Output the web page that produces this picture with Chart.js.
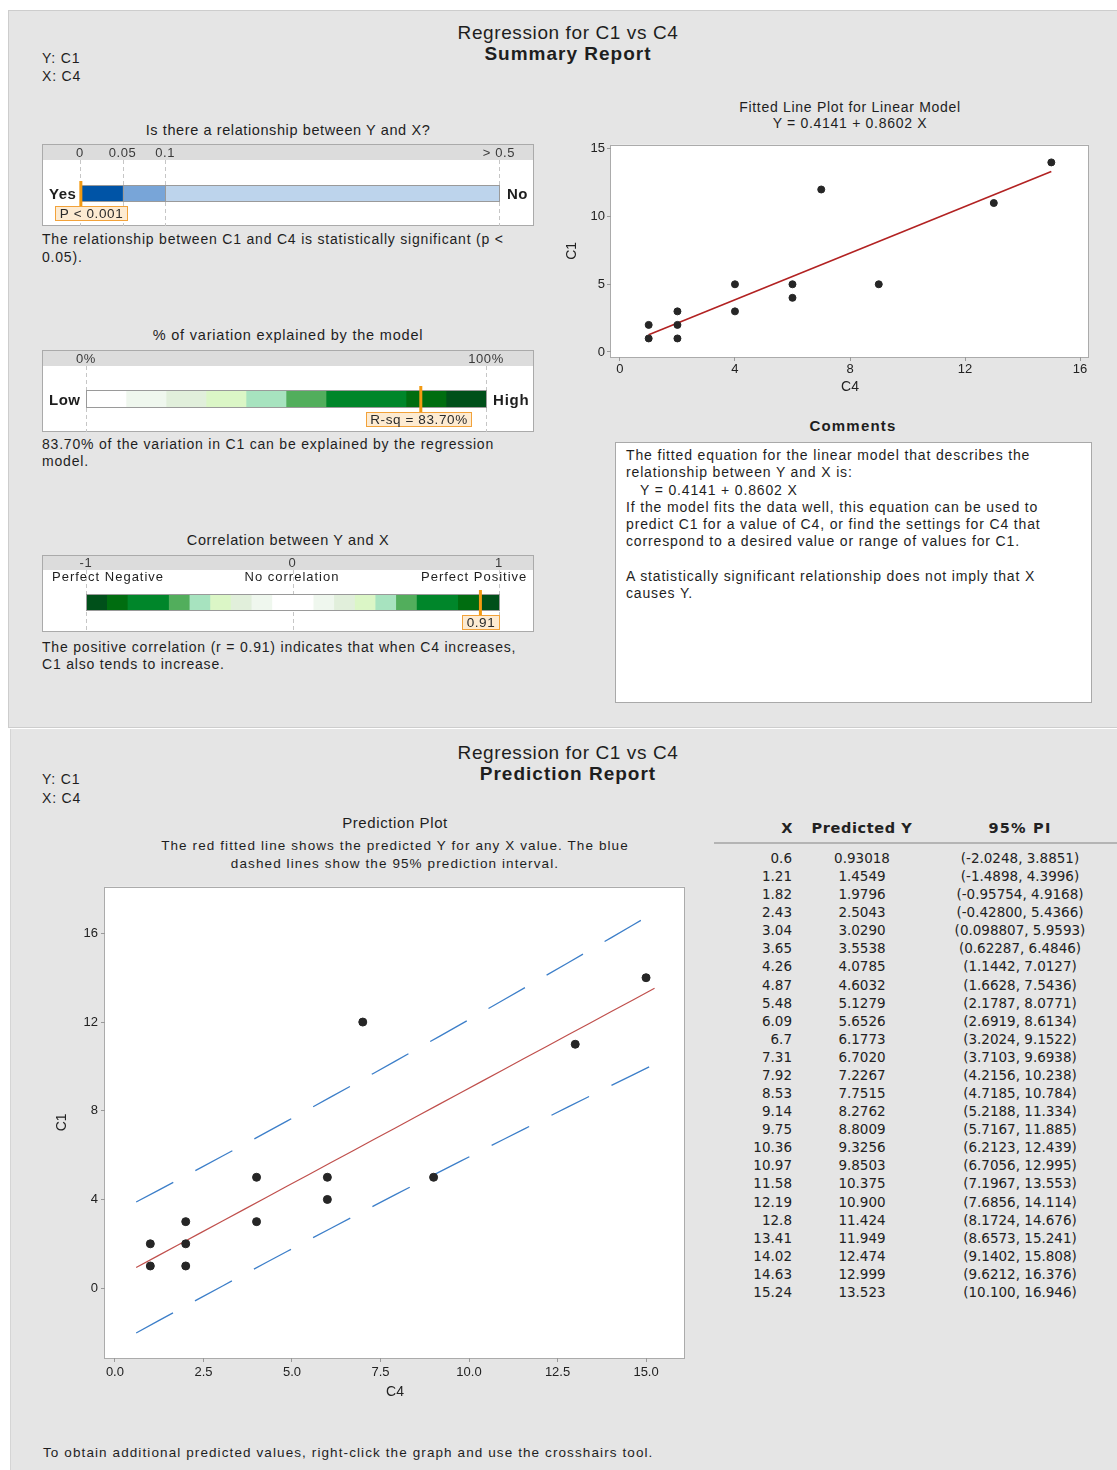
<!DOCTYPE html>
<html>
<head>
<meta charset="utf-8">
<script src="https://cdn.jsdelivr.net/npm/chart.js@4.4.1/dist/chart.umd.min.js"></script>
<style>
body { margin: 0; width: 1117px; height: 1470px; background: #fff; position: relative; overflow: hidden;
  font-family: 'Liberation Sans', Arial, sans-serif; color: #1e1e1e; }
.panel { position: absolute; background: #e5e5e5; }
.t { position: absolute; white-space: nowrap; font-size: 14px; line-height: 17px; letter-spacing: 0.8px; }
.h { font-size: 19px; line-height: 22px; letter-spacing: 0.6px; }
.h.b { letter-spacing: 1px; }
.c { text-align: center; }
.b { font-weight: bold; }
.sp { letter-spacing: 1.1px; font-size: 13.5px; }
canvas { position: absolute; }
#comments { position: absolute; left: 615px; top: 442px; width: 477px; height: 261px; background: #fff;
  border: 1px solid #a9a9a9; padding: 4px 0 0 10px; box-sizing: border-box; font-size: 14px; line-height: 17.3px;
  white-space: pre; letter-spacing: 0.85px; }
.cell { position: absolute; font-family: 'DejaVu Sans', sans-serif; font-size: 13.5px; line-height: 18px; white-space: nowrap; color: #222; }
.hd { font-weight: bold; font-size: 14.5px; letter-spacing: 0.6px; }
</style>
</head>
<body>
<div class="panel" style="left:8px;top:10px;width:1109px;height:716px;border-top:1px solid #cdcdcd;border-left:1px solid #cdcdcd;border-bottom:1px solid #cdcdcd"></div>
<div class="panel" style="left:10px;top:729px;width:1107px;height:741px;border-left:1px solid #d5d5d5"></div>

<!-- summary report -->
<div class="t c h" style="left:368px;top:22px;width:400px">Regression for C1 vs C4</div>
<div class="t c h b" style="left:368px;top:43px;width:400px">Summary Report</div>
<div class="t" style="left:42px;top:50px">Y: C1</div>
<div class="t" style="left:42px;top:68px">X: C4</div>

<div class="t c" style="left:88px;top:122px;width:400px;font-size:14.5px;letter-spacing:0.6px">Is there a relationship between Y and X?</div>
<canvas id="gaugeP" width="492" height="82" style="left:42px;top:144px"></canvas>
<div class="t b" style="left:49px;top:185px;font-size:15px;letter-spacing:0.5px">Yes</div>
<div class="t b" style="left:507px;top:185px;font-size:15px;letter-spacing:0.5px">No</div>
<div class="t" style="left:42px;top:230px;line-height:18px">The relationship between C1 and C4 is statistically significant (p &lt;<br>0.05).</div>

<div class="t c" style="left:88px;top:327px;width:400px;font-size:14.5px">% of variation explained by the model</div>
<canvas id="gaugeR" width="492" height="82" style="left:42px;top:350px"></canvas>
<div class="t b" style="left:49px;top:391px;font-size:15px;letter-spacing:0.5px">Low</div>
<div class="t b" style="left:493px;top:391px;font-size:15px;letter-spacing:0.8px">High</div>
<div class="t" style="left:42px;top:436px">83.70% of the variation in C1 can be explained by the regression<br>model.</div>

<div class="t c" style="left:88px;top:532px;width:400px;font-size:14.5px;letter-spacing:0.65px">Correlation between Y and X</div>
<canvas id="gaugeC" width="492" height="77" style="left:42px;top:555px"></canvas>
<div class="t sp" style="left:52px;top:568px;font-size:13px;letter-spacing:1px">Perfect Negative</div>
<div class="t sp c" style="left:192px;top:568px;width:200px;font-size:13px;letter-spacing:1px">No correlation</div>
<div class="t sp" style="left:421px;top:568px;font-size:13px;letter-spacing:1px">Perfect Positive</div>
<div class="t" style="left:42px;top:639px">The positive correlation (r = 0.91) indicates that when C4 increases,<br>C1 also tends to increase.</div>

<div class="t c" style="left:650px;top:100px;width:400px;line-height:15.5px;letter-spacing:0.7px">Fitted Line Plot for Linear Model<br>Y = 0.4141 + 0.8602 X</div>
<canvas id="fitChart" width="545" height="265" style="left:560px;top:135px"></canvas>

<div class="t c b" style="left:753px;top:417px;width:200px;font-size:15px;letter-spacing:1.2px">Comments</div>
<div id="comments">The fitted equation for the linear model that describes the
relationship between Y and X is:
   Y = 0.4141 + 0.8602 X
If the model fits the data well, this equation can be used to
predict C1 for a value of C4, or find the settings for C4 that
correspond to a desired value or range of values for C1.

A statistically significant relationship does not imply that X
causes Y.</div>

<!-- prediction report -->
<div class="t c h" style="left:368px;top:742px;width:400px">Regression for C1 vs C4</div>
<div class="t c h b" style="left:368px;top:763px;width:400px">Prediction Report</div>
<div class="t" style="left:42px;top:771px">Y: C1</div>
<div class="t" style="left:42px;top:790px">X: C4</div>

<div class="t c" style="left:195px;top:814px;width:400px;font-size:15px;letter-spacing:0.6px">Prediction Plot</div>
<div class="t c sp" style="left:95px;top:837px;width:600px;line-height:18px">The red fitted line shows the predicted Y for any X value. The blue<br>dashed lines show the 95% prediction interval.</div>
<canvas id="predChart" width="660" height="534" style="left:40px;top:876px"></canvas>
<div class="t sp" style="left:43px;top:1444px">To obtain additional predicted values, right-click the graph and use the crosshairs tool.</div>

<div class="cell hd" style="left:720px;top:819px;width:73px;text-align:right">X</div>
<div class="cell hd" style="left:802px;top:819px;width:120px;text-align:center">Predicted Y</div>
<div class="cell hd" style="left:930px;top:819px;width:180px;text-align:center;letter-spacing:1.2px">95% PI</div>
<div style="position:absolute;left:714px;top:842px;width:403px;height:2px;background:#b4b4b4"></div>
<div id="table"></div>

<script>
Chart.defaults.font.family = "'Liberation Sans', Arial, sans-serif";
Chart.defaults.color = '#222';
Chart.defaults.animation = false;

// ---- data ----
var c4 = [1, 1, 2, 2, 2, 4, 4, 6, 6, 7, 9, 13, 15];
var c1 = [1, 2, 1, 2, 3, 3, 5, 4, 5, 12, 5, 11, 14];
var fitX = [1, 15];
var fitY = [1.27, 13.32];

var predX = [0.6, 1.21, 1.82, 2.43, 3.04, 3.65, 4.26, 4.87, 5.48, 6.09, 6.7, 7.31, 7.92,
  8.53, 9.14, 9.75, 10.36, 10.97, 11.58, 12.19, 12.8, 13.41, 14.02, 14.63, 15.24];
var predY = [0.93018, 1.4549, 1.9796, 2.5043, 3.0290, 3.5538, 4.0785, 4.6032, 5.1279, 5.6526,
  6.1773, 6.7020, 7.2267, 7.7515, 8.2762, 8.8009, 9.3256, 9.8503, 10.375, 10.900, 11.424,
  11.949, 12.474, 12.999, 13.523];
var piLow = [-2.0248, -1.4898, -0.95754, -0.42800, 0.098807, 0.62287, 1.1442, 1.6628, 2.1787,
  2.6919, 3.2024, 3.7103, 4.2156, 4.7185, 5.2188, 5.7167, 6.2123, 6.7056, 7.1967, 7.6856,
  8.1724, 8.6573, 9.1402, 9.6212, 10.100];
var piHigh = [3.8851, 4.3996, 4.9168, 5.4366, 5.9593, 6.4846, 7.0127, 7.5436, 8.0771, 8.6134,
  9.1522, 9.6938, 10.238, 10.784, 11.334, 11.885, 12.439, 12.995, 13.553, 14.114, 14.676,
  15.241, 15.808, 16.376, 16.946];

var fitXTicks = [0, 4, 8, 12, 16];
var fitYTicks = [0, 5, 10, 15];
var predXTicks = [0, 2.5, 5, 7.5, 10, 12.5, 15];
var predYTicks = [0, 4, 8, 12, 16];

var pStops = [0, 0.05, 0.1, 0.5];
var pTickLabels = ['0', '0.05', '0.1', '> 0.5'];
var pValue = 0.001;
var pLabel = 'P < 0.001';

var rsqStops = [0, 10, 20, 30, 40, 50, 60, 80, 90, 100];
var rsqTicks = [0, 100];
var rsqTickLabels = ['0%', '100%'];
var rsqValue = 83.70;
var rsqLabel = 'R-sq = 83.70%';

var corrStops = [-1, -0.9, -0.8, -0.6, -0.5, -0.4, -0.3, -0.2, -0.1, 0.1, 0.2, 0.3, 0.4, 0.5, 0.6, 0.8, 0.9, 1];
var corrTicks = [-1, 0, 1];
var corrTickLabels = ['-1', '0', '1'];
var corrValue = 0.91;
var corrLabel = '0.91';

// ---- colours ----
var blues = ['#0054a6', '#78a5d8', '#bdd4ec'];
var greens = ['#ffffff', '#eff7ee', '#e1efdb', '#dbf6c6', '#a7e3bf', '#52ae5c', '#00862a', '#006d10', '#00501a'];
var corrColors = greens.slice(1).reverse().concat(greens);

// p gauge is not linear: 0-0.05-0.1 get equal room, 0.1-0.5 the rest
var pPos = [0, 1, 2, 9.85];
function pMap(v) {
  for (var i = 0; i < pStops.length - 1; i++) {
    if (v <= pStops[i + 1]) {
      return pPos[i] + (v - pStops[i]) / (pStops[i + 1] - pStops[i]) * (pPos[i + 1] - pPos[i]);
    }
  }
  return pPos[pPos.length - 1];
}
function same(v) { return v; }

var gaugeDecor = {
  id: 'gaugeDecor',
  beforeDraw: function(chart, args, o) {
    var ctx = chart.ctx, w = chart.width, h = chart.height, xs = chart.scales.x;
    ctx.save();
    ctx.fillStyle = '#fff';
    ctx.fillRect(0, 0, w, h);
    ctx.fillStyle = '#dcdcdc';
    ctx.fillRect(0, 0, w, o.headH);
    ctx.strokeStyle = '#aaaaaa';
    ctx.lineWidth = 1;
    ctx.strokeRect(0.5, 0.5, w - 1, h - 1);
    ctx.setLineDash([4, 3]);
    ctx.strokeStyle = '#c6c6c6';
    o.ticks.forEach(function(t) {
      var px = Math.round(xs.getPixelForValue(o.map(t))) + 0.5;
      ctx.beginPath();
      ctx.moveTo(px, o.headH);
      ctx.lineTo(px, h);
      ctx.stroke();
    });
    ctx.setLineDash([]);
    ctx.fillStyle = '#3a3a3a';
    ctx.font = "13px 'Liberation Sans', Arial, sans-serif";
    ctx.letterSpacing = '0.6px';
    ctx.textAlign = 'center';
    ctx.textBaseline = 'middle';
    o.ticks.forEach(function(t, i) {
      ctx.fillText(o.labels[i], xs.getPixelForValue(o.map(t)), o.headH / 2 + 1);
    });
    ctx.restore();
  },
  afterDatasetsDraw: function(chart, args, o) {
    var ctx = chart.ctx, xs = chart.scales.x;
    var bar = chart.getDatasetMeta(0).data[0];
    var top = bar.y - bar.height / 2, bottom = bar.y + bar.height / 2;
    var left = xs.getPixelForValue(xs.min), right = xs.getPixelForValue(xs.max);
    ctx.save();
    ctx.strokeStyle = '#9a9a9a';
    ctx.lineWidth = 1;
    if (o.separators) {
      o.ticks.forEach(function(t) {
        var px = Math.round(xs.getPixelForValue(o.map(t))) + 0.5;
        ctx.beginPath();
        ctx.moveTo(px, top);
        ctx.lineTo(px, bottom);
        ctx.stroke();
      });
    }
    ctx.strokeRect(Math.round(left) + 0.5, Math.round(top) - 0.5, Math.round(right - left), Math.round(bottom - top) + 1);
    // marker and its label
    var mx = xs.getPixelForValue(o.map(o.value));
    ctx.font = "13.5px 'Liberation Sans', Arial, sans-serif";
    ctx.letterSpacing = '0.6px';
    var tw = Math.round(ctx.measureText(o.text).width + 8);
    var lx = Math.round(mx + o.shift - tw / 2) + 0.5, ly = Math.round(bottom) + 5.5;
    ctx.fillStyle = '#fdebd2';
    ctx.fillRect(lx, ly, tw, 14);
    ctx.strokeStyle = '#f2a23a';
    ctx.strokeRect(lx, ly, tw, 14);
    ctx.fillStyle = '#f39a12';
    ctx.fillRect(mx - 1.5, top - 5, 3, bottom - top + 10);
    ctx.fillStyle = '#2a2a2a';
    ctx.textAlign = 'center';
    ctx.textBaseline = 'middle';
    ctx.fillText(o.text, lx + tw / 2, ly + 7.5);
    ctx.restore();
  }
};

function makeGauge(id, g) {
  var datasets = [];
  for (var i = 0; i < g.stops.length - 1; i++) {
    datasets.push({
      data: [[g.map(g.stops[i]), g.map(g.stops[i + 1])]],
      backgroundColor: g.colors[i],
      borderWidth: 0,
      grouped: false,
      barThickness: g.thick
    });
  }
  return new Chart(document.getElementById(id), {
    type: 'bar',
    data: { labels: [''], datasets: datasets },
    options: {
      indexAxis: 'y',
      responsive: false,
      events: [],
      layout: { padding: g.pad },
      scales: {
        x: { display: false, min: g.map(g.stops[0]), max: g.map(g.stops[g.stops.length - 1]) },
        y: { display: false }
      },
      plugins: {
        legend: { display: false },
        tooltip: { enabled: false },
        gaugeDecor: {
          headH: g.headH, ticks: g.ticks, labels: g.labels, map: g.map,
          value: g.value, text: g.text, shift: g.shift, separators: g.separators
        }
      }
    },
    plugins: [gaugeDecor]
  });
}

makeGauge('gaugeP', {
  stops: pStops, colors: blues, map: pMap, thick: 15, headH: 16,
  pad: { left: 38, right: 35, top: 40, bottom: 23 },
  ticks: pStops, labels: pTickLabels, value: pValue, text: pLabel, shift: 10, separators: true
});
makeGauge('gaugeR', {
  stops: rsqStops, colors: greens, map: same, thick: 16, headH: 16,
  pad: { left: 44, right: 48, top: 40, bottom: 24 },
  ticks: rsqTicks, labels: rsqTickLabels, value: rsqValue, text: rsqLabel, shift: -2
});
makeGauge('gaugeC', {
  stops: corrStops, colors: corrColors, map: same, thick: 15, headH: 15,
  pad: { left: 44, right: 35, top: 38, bottom: 20 },
  ticks: corrTicks, labels: corrTickLabels, value: corrValue, text: corrLabel, shift: 0
});

// ---- scatter plots ----
var plotBox = {
  id: 'plotBox',
  beforeDraw: function(chart) {
    var a = chart.chartArea, ctx = chart.ctx;
    ctx.save();
    ctx.fillStyle = '#fff';
    ctx.fillRect(a.left, a.top, a.right - a.left, a.bottom - a.top);
    ctx.strokeStyle = '#ababab';
    ctx.lineWidth = 1;
    ctx.strokeRect(Math.round(a.left) - 0.5, Math.round(a.top) + 0.5, Math.round(a.right - a.left), Math.round(a.bottom - a.top));
    ctx.restore();
  }
};

function pts(xs, ys) {
  return xs.map(function(x, i) { return { x: x, y: ys[i] }; });
}

function axis(min, max, ticks, size, title, tpad, tickPad, fmt) {
  return {
    type: 'linear', min: min, max: max,
    afterBuildTicks: function(s) { s.ticks = ticks.map(function(v) { return { value: v }; }); },
    afterFit: function(s) { if (s.isHorizontal()) s.height = size; else s.width = size; },
    grid: { drawOnChartArea: false, drawTicks: true, tickLength: 4, color: '#9a9a9a' },
    border: { display: false },
    ticks: { padding: tickPad, autoSkip: false, maxRotation: 0, color: '#222', font: { size: 13 },
      callback: fmt || function(v) { return v; } },
    title: { display: true, text: title, color: '#222', font: { size: 14 }, padding: tpad }
  };
}

new Chart(document.getElementById('fitChart'), {
  type: 'scatter',
  data: {
    datasets: [
      { data: pts(c4, c1), backgroundColor: '#262626', borderColor: '#262626', pointRadius: 3.5 },
      { data: pts(fitX, fitY), showLine: true, borderColor: '#b22222', borderWidth: 1.6, pointRadius: 0 }
    ]
  },
  options: {
    responsive: false,
    events: [],
    layout: { padding: { left: 0, right: 16, top: 5, bottom: 0 } },
    scales: {
      x: axis(-0.31, 16.31, fitXTicks, 43, 'C4', { top: 0, bottom: 4 }, 1),
      y: axis(-0.37, 15.3, fitYTicks, 51, 'C1', { top: 4, bottom: 0 }, 2)
    },
    plugins: { legend: { display: false }, tooltip: { enabled: false } }
  },
  plugins: [plotBox]
});

new Chart(document.getElementById('predChart'), {
  type: 'scatter',
  data: {
    datasets: [
      { data: pts(c4, c1), backgroundColor: '#262626', borderColor: '#262626', pointRadius: 4 },
      { data: pts(predX, predY), showLine: true, borderColor: '#c0504d', borderWidth: 1.2, pointRadius: 0 },
      { data: pts(predX, piHigh), showLine: true, borderColor: '#3d7fc9', borderWidth: 1.3, borderDash: [42, 25], pointRadius: 0 },
      { data: pts(predX, piLow), showLine: true, borderColor: '#3d7fc9', borderWidth: 1.3, borderDash: [42, 25], pointRadius: 0 }
    ]
  },
  options: {
    responsive: false,
    events: [],
    layout: { padding: { left: 0, right: 15, top: 6, bottom: 0 } },
    scales: {
      x: axis(-0.28, 16.1, predXTicks, 52, 'C4', { top: 0, bottom: 9 }, 3, function(v) { return v.toFixed(1); }),
      y: axis(-3.15, 18.1, predYTicks, 65, 'C1', { top: 14, bottom: 0 }, 3)
    },
    plugins: { legend: { display: false }, tooltip: { enabled: false } }
  },
  plugins: [plotBox]
});

// ---- prediction table ----
var table = document.getElementById('table');
var rowH = 18.08;
predX.forEach(function(x, i) {
  var top = 849 + i * rowH;
  var html = '<div class="cell" style="left:700px;top:' + top + 'px;width:92px;text-align:right">' + x + '</div>' +
    '<div class="cell" style="left:802px;top:' + top + 'px;width:120px;text-align:center">' + predY[i].toPrecision(5) + '</div>' +
    '<div class="cell" style="left:930px;top:' + top + 'px;width:180px;text-align:center">(' +
    piLow[i].toPrecision(5) + ', ' + piHigh[i].toPrecision(5) + ')</div>';
  table.insertAdjacentHTML('beforeend', html);
});
</script>
</body>
</html>
